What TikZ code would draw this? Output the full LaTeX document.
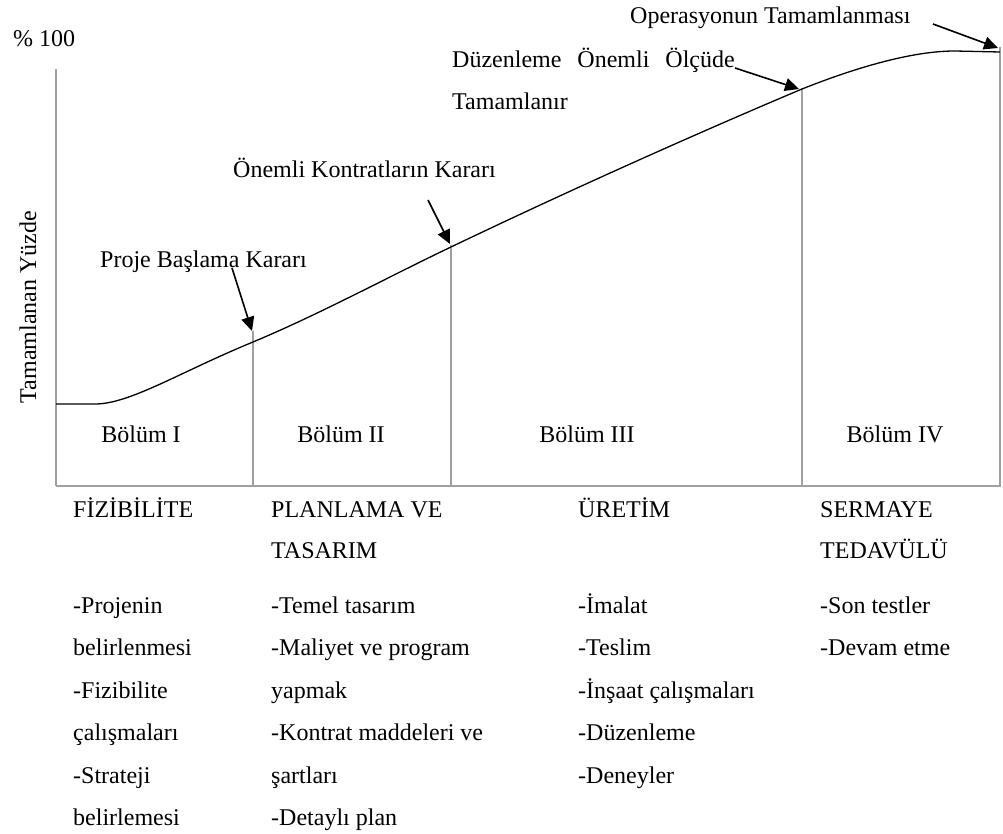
\documentclass[tikz,border=0pt]{standalone}
\usepackage{fontspec}
\setmainfont{Liberation Serif}
\usetikzlibrary{arrows.meta}
\definecolor{axisgray}{RGB}{160,160,160}
\tikzset{
  lbl/.style={inner sep=0pt, font=\fontsize{24}{28}\selectfont, anchor=base west},
  ctr/.style={inner sep=0pt, font=\fontsize{24}{28}\selectfont, anchor=base},
  grayline/.style={draw=axisgray, line width=2.6pt},
  axisline/.style={draw=axisgray, line width=2pt},
  curveline/.style={draw=black, line width=1.3pt},
  pointer/.style={draw=black, line width=1.6pt, -{Triangle[length=14pt,width=13pt]}},
}
\begin{document}
\begin{tikzpicture}[x=1pt,y=-1pt]
\useasboundingbox (0,0) rectangle (1003,834);
% axes
\coordinate (ytop) at (56,69);
\coordinate (orig) at (56,486);
\coordinate (xend) at (1001,486);
\draw[axisline] (ytop) -- (orig);
\draw[grayline] (orig) -- (xend);
% vertical separators
\coordinate (v1t) at (253,331);
\coordinate (v1b) at (253,486);
\coordinate (v2t) at (451,245);
\coordinate (v2b) at (451,486);
\coordinate (v3t) at (802,88);
\coordinate (v3b) at (802,486);
\coordinate (v4t) at (1000,47);
\coordinate (v4b) at (1000,486);
\draw[grayline] (v1t) -- (v1b);
\draw[grayline] (v2t) -- (v2b);
\draw[grayline] (v3t) -- (v3b);
\draw[grayline] (v4t) -- (v4b);
% S-curve
\draw[curveline] (56,404) -- (95,404) .. controls (130,404) and (180,372) .. (253,342)
  .. controls (320,314) and (390,276) .. (451,247)
  .. controls (570,190) and (700,132) .. (802,89)
  .. controls (870,62) and (920,51) .. (955,51) -- (1000,52);
% axis labels
\node[lbl] (pct) at (13,47) {\% 100};
\node[ctr, rotate=90] (ylab) at (36,307) {Tamamlanan Yüzde};
% milestone labels
\node[lbl] (m4) at (630,24) {Operasyonun Tamamlanması};
\node[lbl] (m3a) at (452,68) {Düzenleme\hspace{16pt}Önemli\hspace{16pt}Ölçüde};
\node[lbl] (m3b) at (452,110) {Tamamlanır};
\node[lbl] (m2) at (233,178) {Önemli Kontratların Kararı};
\node[lbl] (m1) at (100,267) {Proje Başlama Kararı};
% arrows
\coordinate (a1s) at (232,268);
\coordinate (a1e) at (252,331);
\coordinate (a2s) at (428,200);
\coordinate (a2e) at (450,244);
\coordinate (a3s) at (735,68);
\coordinate (a3e) at (799,89);
\coordinate (a4s) at (933,24);
\coordinate (a4e) at (998,48);
\draw[pointer] (a1s) -- (a1e);
\draw[pointer] (a2s) -- (a2e);
\draw[pointer] (a3s) -- (a3e);
\draw[pointer] (a4s) -- (a4e);
% section labels
\node[ctr] (b1) at (141,442) {Bölüm I};
\node[ctr] (b2) at (341,442) {Bölüm II};
\node[ctr] (b3) at (587,442) {Bölüm III};
\node[ctr] (b4) at (895,442) {Bölüm IV};
% phase titles
\node[lbl] (h1) at (73,517) {FİZİBİLİTE};
\node[lbl] (h2a) at (271,517) {PLANLAMA VE};
\node[lbl] (h2b) at (271,558) {TASARIM};
\node[lbl] (h3) at (578,517) {ÜRETİM};
\node[lbl] (h4a) at (820,517) {SERMAYE};
\node[lbl] (h4b) at (820,558) {TEDAVÜLÜ};
% column 1
\node[lbl] (c1a) at (73,613) {-Projenin};
\node[lbl] (c1b) at (73,655.5) {belirlenmesi};
\node[lbl] (c1c) at (73,698) {-Fizibilite};
\node[lbl] (c1d) at (73,740.5) {çalışmaları};
\node[lbl] (c1e) at (73,783) {-Strateji};
\node[lbl] (c1f) at (73,825.5) {belirlemesi};
% column 2
\node[lbl] (c2a) at (271,613) {-Temel tasarım};
\node[lbl] (c2b) at (271,655.5) {-Maliyet ve program};
\node[lbl] (c2c) at (271,698) {yapmak};
\node[lbl] (c2d) at (271,740.5) {-Kontrat maddeleri ve};
\node[lbl] (c2e) at (271,783) {şartları};
\node[lbl] (c2f) at (271,825.5) {-Detaylı plan};
% column 3
\node[lbl] (c3a) at (578,613) {-İmalat};
\node[lbl] (c3b) at (578,655.5) {-Teslim};
\node[lbl] (c3c) at (578,698) {-İnşaat çalışmaları};
\node[lbl] (c3d) at (578,740.5) {-Düzenleme};
\node[lbl] (c3e) at (578,783) {-Deneyler};
% column 4
\node[lbl] (c4a) at (820,613) {-Son testler};
\node[lbl] (c4b) at (820,655.5) {-Devam etme};
\end{tikzpicture}
\end{document}
